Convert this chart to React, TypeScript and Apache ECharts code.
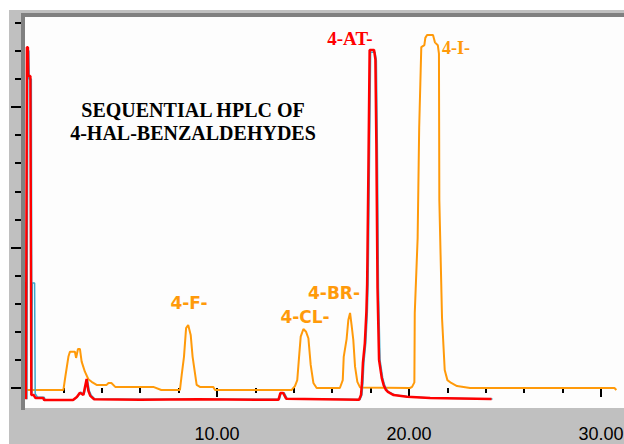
import React, { useEffect, useRef } from "react";
import * as echarts from "echarts";

// [retention time (min), detector signal (arbitrary units)]
const orangeTrace: [number, number][] = [
  [0.1, -0.07], [2.0, -0.07], [2.1, 0.4], [2.26, 1.11], [2.34, 1.29], [2.6, 1.29],
  [2.66, 1.07], [2.76, 1.39], [2.86, 1.39], [2.95, 0.94], [3.12, 0.58], [3.3, 0.31],
  [3.47, 0.22], [3.73, 0.11], [4.25, 0.11], [4.35, 0.18], [4.5, 0.18], [4.7, 0.04],
  [6.68, 0.04], [7.1, -0.07], [8.07, -0.07], [8.16, 0.46], [8.28, 1.11], [8.39, 2.13],
  [8.5, 2.24], [8.63, 1.89], [8.73, 1.11], [8.94, 0.11], [9.11, 0.04], [9.8, 0.04],
  [9.9, -0.07], [13.89, -0.07], [14.06, 0.07], [14.18, 0.28], [14.29, 1.24], [14.36, 1.83],
  [14.5, 2.1], [14.64, 2.0], [14.76, 1.77], [14.88, 0.82], [15.02, 0.18], [15.19, 0],
  [16.4, 0], [16.55, 0.28], [16.6, 1.11], [16.75, 1.74], [16.84, 2.42], [16.93, 2.67],
  [17.02, 2.18], [17.1, 1.7], [17.19, 0.76], [17.31, 0.22], [17.45, 0.02], [20.05, 0],
  [20.16, 0.04], [20.28, 0.2], [20.3, 2.67], [20.45, 5.34], [20.53, 9.25], [20.64, 12.13],
  [20.8, 12.2], [20.85, 12.46], [20.94, 12.56], [21.25, 12.56], [21.35, 12.3], [21.5, 12.2],
  [21.56, 11.9], [21.58, 6.69], [21.72, 2.49], [21.86, 0.64], [22.0, 0.28], [22.2, 0.18],
  [22.5, 0.07], [23.18, 0], [30.7, 0], [30.8, -0.07],
];

const redTrace: [number, number][] = [
  [0.05, -0.4], [0.1, 12.13], [0.15, 12.13], [0.17, 11.1], [0.28, 11.1], [0.33, -0.25],
  [0.45, -0.25], [0.55, -0.36], [0.95, -0.36], [1.0, -0.43], [2.5, -0.43], [2.7, -0.32],
  [2.86, -0.17], [3.04, -0.25], [3.21, 0.32], [3.3, -0.1], [3.4, -0.28], [3.6, -0.4],
  [6.0, -0.42], [9.0, -0.4], [13.2, -0.42], [13.3, -0.18], [13.45, -0.18], [13.6, -0.38],
  [17.4, -0.42], [17.5, -0.25], [17.55, 0.18], [17.6, 0.9], [17.7, 1.6], [17.78, 2.7],
  [17.82, 3.7], [17.88, 7.4], [17.95, 12.03], [18.18, 12.03], [18.25, 11.7], [18.3, 8.7],
  [18.36, 3.56], [18.44, 1.0], [18.58, 0.36], [18.68, 0.1], [18.8, -0.07], [18.9, -0.14],
  [19.2, -0.25], [19.9, -0.31], [21.1, -0.36], [24.3, -0.39],
];

const blueTrace: [number, number][] = [
  [0.1, -0.4], [0.15, 12.0], [0.2, 12.0], [0.22, 11.0], [0.33, 11.0], [0.36, -0.2],
  [0.38, 3.74], [0.5, 3.74], [0.53, -0.2], [0.65, -0.33], [1.0, -0.33], [1.05, -0.42],
  [2.55, -0.42], [2.75, -0.3], [2.9, -0.15], [3.08, -0.22], [3.25, 0.3], [3.35, -0.1],
  [3.45, -0.26], [3.65, -0.4], [13.25, -0.4], [13.35, -0.17], [13.5, -0.17], [13.65, -0.37],
  [17.45, -0.41], [17.55, -0.24], [17.6, 0.18], [17.65, 0.9], [17.75, 1.6], [17.83, 2.7],
  [17.87, 3.7], [17.93, 7.4], [18.0, 11.95], [18.23, 11.95], [18.3, 11.65], [18.35, 8.7],
  [18.41, 3.56], [18.49, 1.0], [18.63, 0.36], [18.73, 0.1], [18.85, -0.07], [18.95, -0.14],
  [19.25, -0.25], [19.95, -0.31], [21.15, -0.36], [24.35, -0.39],
];

const xMajorTicks = [10, 20, 30];
const titleLines = ["SEQUENTIAL HPLC OF", "4-HAL-BENZALDEHYDES"];
const peakNames = ["4-AT-", "4-I-", "4-F-", "4-CL-", "4-BR-"];

const ORANGE = "#ff9a0a";
const RED = "#ff0000";
const BLUE = "#38a8cc";

function txt(
  text: string,
  x: number,
  y: number,
  size: number,
  family: string,
  fill: string
) {
  return {
    type: "text",
    x,
    y,
    z: 20,
    silent: true,
    style: {
      text,
      fill,
      fontSize: size,
      fontWeight: "bold",
      fontFamily: family,
      textAlign: "center",
      align: "center",
      textVerticalAlign: "middle",
      verticalAlign: "middle",
    },
  };
}

export default function App() {
  const ref = useRef<HTMLDivElement>(null);
  useEffect(() => {
    if (!ref.current) return;
    const chart = echarts.init(ref.current, null, { renderer: "svg" });
    const serif = '"Liberation Serif", "Times New Roman", serif';
    const sans = '"DejaVu Sans", Verdana, sans-serif';
    const lineSeries = (name: string, data: [number, number][], color: string, width: number) => ({
      name,
      type: "line",
      xAxisIndex: 0,
      yAxisIndex: 0,
      data,
      symbol: "none",
      showSymbol: false,
      silent: true,
      lineStyle: { color, width },
      emphasis: { disabled: true },
    });
    chart.setOption({
      animation: false,
      backgroundColor: "#ffffff",
      grid: [
        { left: 25, top: -33.5, width: 768, height: 441.45, show: false, outerBoundsMode: "none", containLabel: false },
        { left: 21, top: -33.5, width: 10, height: 421.5, show: false, outerBoundsMode: "none", containLabel: false },
      ],
      xAxis: [
        {
          gridIndex: 0,
          type: "value",
          min: 0,
          max: 40,
          interval: 10,
          offset: 3,
          axisLine: { show: false },
          splitLine: { show: false },
          axisTick: { show: true, length: 9, lineStyle: { color: "#000", width: 2 } },
          minorTick: { show: true, splitNumber: 5, length: 5, lineStyle: { color: "#000", width: 2 } },
          axisLabel: {
            color: "#000",
            fontSize: 18,
            fontFamily: '"Liberation Sans", Arial, sans-serif',
            margin: 14,
            formatter: (v: number) => (xMajorTicks.includes(v) ? v.toFixed(2) : ""),
          },
        },
        { gridIndex: 1, type: "value", min: 0, max: 1, show: false },
      ],
      yAxis: [
        { gridIndex: 0, type: "value", min: -0.71, max: 15, show: false },
        {
          gridIndex: 1,
          type: "value",
          min: 0,
          max: 15,
          interval: 5,
          axisLine: { show: false },
          splitLine: { show: false },
          axisLabel: { show: false },
          axisTick: { show: true, length: 10, lineStyle: { color: "#000", width: 2 } },
          minorTick: { show: true, splitNumber: 5, length: 6, lineStyle: { color: "#000", width: 2 } },
        },
      ],
      series: [
        lineSeries("orange", orangeTrace, ORANGE, 2),
        lineSeries("blue", blueTrace, BLUE, 1.5),
        lineSeries("red", redTrace, RED, 2.5),
      ],
      graphic: [
        { type: "rect", z: -10, silent: true, shape: { x: 9, y: 10, width: 615, height: 434 }, style: { fill: "#c0c0c0" } },
        { type: "rect", z: -9, silent: true, shape: { x: 25, y: 17, width: 599, height: 391 }, style: { fill: "#fdfdfd" } },
        { type: "rect", z: 10, silent: true, shape: { x: 21, y: 13, width: 603, height: 4 }, style: { fill: "#808080" } },
        { type: "rect", z: 10, silent: true, shape: { x: 21, y: 13, width: 4, height: 397 }, style: { fill: "#808080" } },
        { type: "rect", z: 10, silent: true, shape: { x: 22, y: 410, width: 6, height: 14 }, style: { fill: "#c0c0c0" } },
        txt(titleLines[0], 193, 109.5, 20, serif, "#000"),
        txt(titleLines[1], 193, 132.5, 20, serif, "#000"),
        txt(peakNames[0], 350, 38.5, 19, serif, RED),
        txt(peakNames[1], 456, 47.5, 18, serif, ORANGE),
        txt(peakNames[2], 189, 303, 17, sans, ORANGE),
        txt(peakNames[3], 305, 316.5, 17, sans, ORANGE),
        txt(peakNames[4], 334, 293, 17, sans, ORANGE),
      ],
    });
    return () => chart.dispose();
  }, []);
  return (
    <div
      ref={ref}
      style={{ position: "absolute", left: 0, top: 0, width: 624, height: 444 }}
    />
  );
}
